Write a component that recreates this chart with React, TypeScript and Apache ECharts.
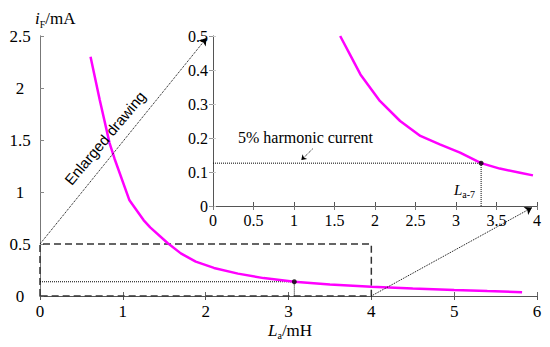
import React, { useEffect, useRef } from "react";
import * as echarts from "echarts";

// Main plot curve (L_a in mH, i_F in mA)
const mainCurve: [number, number][] = [
  [0.61, 2.3], [0.72, 1.89], [0.84, 1.47], [0.9, 1.32], [1.08, 0.92], [1.25, 0.73],
  [1.33, 0.66], [1.54, 0.51], [1.7, 0.41], [1.88, 0.33], [2.1, 0.27], [2.39, 0.215],
  [2.7, 0.172], [3.07, 0.137], [3.5, 0.11], [4.0, 0.09], [4.5, 0.073], [5.0, 0.058],
  [5.4, 0.047], [5.82, 0.037],
];
const mainPoint: [number, number] = [3.07, 0.137];

// Inset (enlarged) curve
const insetCurve: [number, number][] = [
  [1.57, 0.5], [1.69, 0.446], [1.82, 0.387], [2.06, 0.309], [2.31, 0.25], [2.56, 0.206],
  [2.8, 0.181], [3.05, 0.157], [3.31, 0.126], [3.54, 0.11], [3.79, 0.098], [3.95, 0.09],
];
const insetPoint: [number, number] = [3.31, 0.126];

// Zoom box in main coords
const zoomBox: [number, number][] = [[0, 0], [0, 0.5], [4, 0.5], [4, 0], [0, 0]];
const connector1: [number, number][] = [[0, 0.5], [2.01, 2.48]];
const connector2: [number, number][] = [[4, 0], [5.94, 0.85]];
const noteArrow: [number, number][] = [[1.23, 0.168], [1.09, 0.135]];

const mainXTicks = { min: 0, max: 6, interval: 1 };
const mainYTicks = { min: 0, max: 2.5, interval: 0.5 };
const insetXTicks = { min: 0, max: 4, interval: 0.5 };
const insetYTicks = { min: 0, max: 0.5, interval: 0.1 };

const SERIF = "'Liberation Serif', 'Times New Roman', serif";

export default function App() {
  const ref = useRef<HTMLDivElement>(null);
  useEffect(() => {
    if (!ref.current) return;
    const chart = echarts.init(ref.current, undefined, { renderer: "svg" });
    const labelStyle = { color: "#000", fontFamily: SERIF };
    const hiddenAxisBase = {
      axisLabel: { show: false },
      splitLine: { show: false },
    };
    const dotted = { type: "dotted" as const, color: "#000", width: 1 };
    chart.setOption({
      animation: false,
      backgroundColor: "#fff",
      grid: [
        { left: 40, top: 36, width: 497, height: 260, show: false },
        { left: 213, top: 36, width: 324, height: 170, show: true, backgroundColor: "#fff", borderWidth: 0, z: 3 },
      ],
      xAxis: [
        {
          gridIndex: 0, type: "value", ...mainXTicks,
          axisLine: { lineStyle: { color: "#888" } },
          axisTick: { inside: true, length: 4, lineStyle: { color: "#666" } },
          axisLabel: { ...labelStyle, fontSize: 17, margin: 7 },
          splitLine: { show: false },
        },
        {
          gridIndex: 0, type: "value", position: "top", ...mainXTicks, ...hiddenAxisBase,
          axisLine: { lineStyle: { color: "#555" } },
          axisTick: { inside: true, length: 4, lineStyle: { color: "#555" } },
        },
        {
          gridIndex: 1, type: "value", ...insetXTicks,
          axisLine: { lineStyle: { color: "#444" } },
          axisTick: { inside: true, length: 4, lineStyle: { color: "#555" } },
          axisLabel: { ...labelStyle, fontSize: 16, margin: 6 },
          splitLine: { show: false },
          z: 4,
        },
        {
          gridIndex: 1, type: "value", position: "top", ...insetXTicks, ...hiddenAxisBase,
          axisLine: { lineStyle: { color: "#555" } },
          axisTick: { inside: true, length: 4, lineStyle: { color: "#777" } },
          z: 4,
        },
      ],
      yAxis: [
        {
          gridIndex: 0, type: "value", ...mainYTicks,
          axisLine: { show: true, lineStyle: { color: "#999" } },
          axisTick: { show: true, inside: true, length: 4, lineStyle: { color: "#888" } },
          axisLabel: { ...labelStyle, fontSize: 17, margin: 20, align: "center" },
          splitLine: { show: false },
        },
        {
          gridIndex: 0, type: "value", position: "right", ...mainYTicks, ...hiddenAxisBase,
          axisLine: { show: true, lineStyle: { color: "#777" } },
          axisTick: { show: false },
        },
        {
          gridIndex: 1, type: "value", ...insetYTicks,
          axisLine: { show: true, lineStyle: { color: "#ccc" } },
          axisTick: { show: true, inside: true, length: 3, lineStyle: { color: "#ccc" } },
          axisLabel: { ...labelStyle, fontSize: 16, margin: 5 },
          splitLine: { show: false },
          z: 4,
        },
        {
          gridIndex: 1, type: "value", position: "right", ...insetYTicks, ...hiddenAxisBase,
          axisLine: { show: true, lineStyle: { color: "#555" } },
          axisTick: { show: true, inside: true, length: 4, lineStyle: { color: "#999" } },
          z: 4,
        },
      ],
      series: [
        {
          type: "line", xAxisIndex: 0, yAxisIndex: 0, data: zoomBox, showSymbol: false,
          lineStyle: { type: [7, 4], color: "#333", width: 1.5 }, z: 2, silent: true,
        },
        {
          type: "line", xAxisIndex: 0, yAxisIndex: 0, data: [[0, mainPoint[1]], mainPoint, [mainPoint[0], 0]],
          showSymbol: false, lineStyle: dotted, z: 2, silent: true,
        },
        {
          type: "line", xAxisIndex: 0, yAxisIndex: 0, data: mainCurve, showSymbol: false,
          lineStyle: { color: "#ff00ff", width: 2.5 }, z: 3, silent: true,
        },
        {
          type: "scatter", xAxisIndex: 0, yAxisIndex: 0, data: [mainPoint], symbolSize: 5,
          itemStyle: { color: "#000" }, z: 4, silent: true,
        },
        {
          type: "line", xAxisIndex: 0, yAxisIndex: 0, data: [], silent: true,
          markLine: {
            silent: true, symbol: ["none", "arrow"], symbolSize: 7,
            lineStyle: dotted, label: { show: false },
            data: [
              [{ coord: connector1[0] }, { coord: connector1[1] }],
              [{ coord: connector2[0] }, { coord: connector2[1] }],
            ],
          },
          z: 6,
        },
        {
          type: "line", xAxisIndex: 2, yAxisIndex: 2, data: [[0, insetPoint[1]], insetPoint, [insetPoint[0], 0]],
          showSymbol: false, lineStyle: dotted, z: 5, silent: true,
        },
        {
          type: "line", xAxisIndex: 2, yAxisIndex: 2, data: insetCurve, showSymbol: false,
          lineStyle: { color: "#ff00ff", width: 2.5 }, z: 5, silent: true,
        },
        {
          type: "scatter", xAxisIndex: 2, yAxisIndex: 2, data: [insetPoint], symbolSize: 5,
          itemStyle: { color: "#000" }, z: 6, silent: true,
        },
        {
          type: "line", xAxisIndex: 2, yAxisIndex: 2, data: [], silent: true,
          markLine: {
            silent: true, symbol: ["none", "arrow"], symbolSize: 5,
            lineStyle: { type: "dotted", color: "#000", width: 1 }, label: { show: false },
            data: [[{ coord: noteArrow[0] }, { coord: noteArrow[1] }]],
          },
          z: 6,
        },
      ],
      graphic: [
        {
          type: "text", left: 35, top: 10, z: 10,
          style: {
            text: "{i|i}{s|F}{n|/mA}",
            rich: {
              i: { fontFamily: SERIF, fontSize: 17, fontStyle: "italic", fill: "#000", lineHeight: 22, verticalAlign: "middle" },
              s: { fontFamily: SERIF, fontSize: 10, fill: "#000", lineHeight: 22, verticalAlign: "bottom" },
              n: { fontFamily: SERIF, fontSize: 17, fill: "#000", lineHeight: 22, verticalAlign: "middle" },
            },
          },
        },
        {
          type: "text", left: 268, top: 322, z: 10,
          style: {
            text: "{i|L}{s|a}{n|/mH}",
            rich: {
              i: { fontFamily: SERIF, fontSize: 17, fontStyle: "italic", fill: "#000", lineHeight: 19, verticalAlign: "middle" },
              s: { fontFamily: SERIF, fontSize: 10, fill: "#000", lineHeight: 19, verticalAlign: "bottom" },
              n: { fontFamily: SERIF, fontSize: 17, fill: "#000", lineHeight: 19, verticalAlign: "middle" },
            },
          },
        },
        {
          type: "text", left: 454, top: 182, z: 10,
          style: {
            text: "{i|L}{s|a-7}",
            rich: {
              i: { fontFamily: SERIF, fontSize: 15, fontStyle: "italic", fill: "#000", lineHeight: 20, verticalAlign: "middle" },
              s: { fontFamily: SERIF, fontSize: 10, fill: "#000", lineHeight: 20, verticalAlign: "bottom" },
            },
          },
        },
        {
          type: "text", x: 238, y: 137, z: 10,
          style: { text: "5% harmonic current", fontFamily: SERIF, fontSize: 16, fill: "#000", verticalAlign: "middle", align: "left" },
        },
        {
          type: "text", x: 105, y: 138, rotation: (50 * Math.PI) / 180, z: 10,
          style: {
            text: "Enlarged drawing", fontFamily: "'Liberation Sans', Arial, sans-serif", fontSize: 15,
            fill: "#000", align: "center", verticalAlign: "middle",
          },
        },
      ],
    });
    return () => chart.dispose();
  }, []);
  return <div ref={ref} style={{ width: 550, height: 347, position: "absolute", left: 0, top: 0 }} />;
}
